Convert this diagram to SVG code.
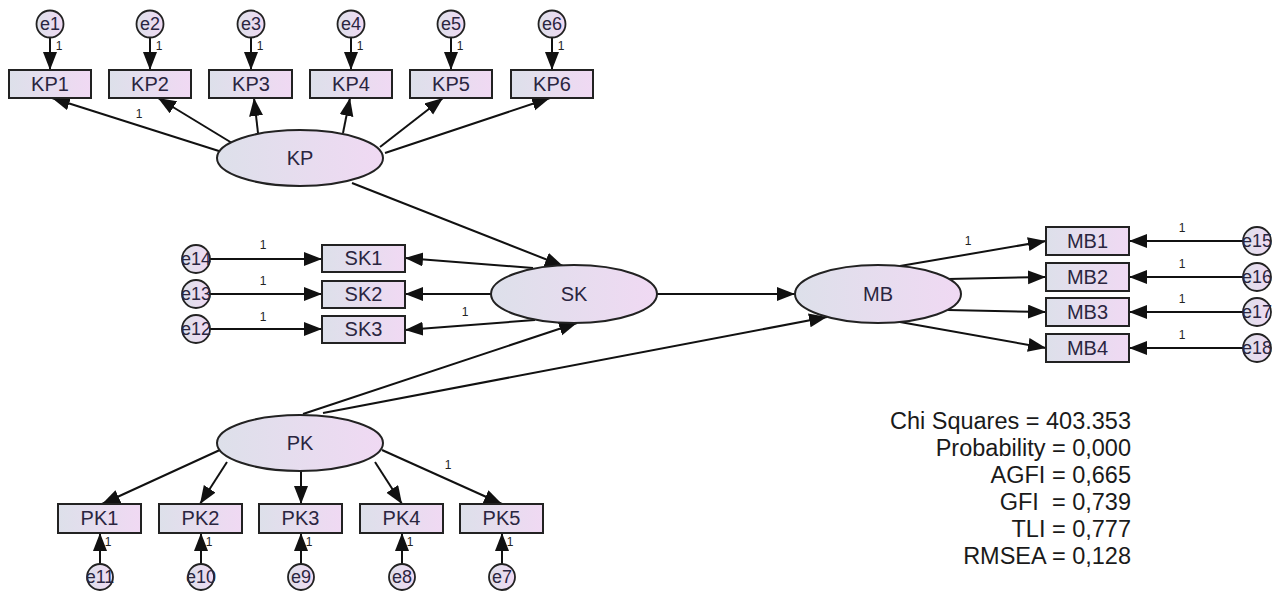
<svg xmlns="http://www.w3.org/2000/svg" width="1279" height="591" viewBox="0 0 1279 591">
<style>
.bx{fill:url(#g);stroke:#222;stroke-width:2}
.el{fill:url(#g);stroke:#222;stroke-width:2}
.ci{fill:url(#g);stroke:#222;stroke-width:1.8}
.t{font-family:"Liberation Sans",Arial,sans-serif;font-size:20px;fill:#2a2540;text-anchor:middle}
.te{font-family:"Liberation Sans",Arial,sans-serif;font-size:18px;fill:#2a2540;text-anchor:middle}
.one{font-family:"Liberation Sans",Arial,sans-serif;font-size:12px;fill:#222;text-anchor:middle}
.st{font-family:"Liberation Sans",Arial,sans-serif;font-size:23.5px;fill:#1a1a1a;text-anchor:end}
.c line{stroke:#111;stroke-width:2;marker-end:url(#ah)}
</style>
<defs>
<linearGradient id="g" x1="0" y1="0" x2="1" y2="0">
<stop offset="0" stop-color="#dde0ea"/>
<stop offset="1" stop-color="#f0d9f3"/>
</linearGradient>
<marker id="ah" markerUnits="userSpaceOnUse" markerWidth="20" markerHeight="15" refX="18" refY="7" orient="auto">
<path d="M0,0 L18,7 L0,14 z" fill="#111"/>
</marker>
</defs>
<rect width="1279" height="591" fill="#fff"/>
<g id="connectors" class="c">
<line x1="50" y1="38" x2="50" y2="70"/>
<line x1="150" y1="38" x2="150" y2="70"/>
<line x1="251" y1="38" x2="251" y2="70"/>
<line x1="351" y1="38" x2="351" y2="70"/>
<line x1="451" y1="38" x2="451" y2="70"/>
<line x1="552" y1="38" x2="552" y2="70"/>
<line x1="222" y1="152" x2="52" y2="98"/>
<line x1="232" y1="143" x2="158" y2="98"/>
<line x1="258" y1="133" x2="254" y2="98"/>
<line x1="343" y1="133" x2="350" y2="98"/>
<line x1="380" y1="147" x2="443" y2="98"/>
<line x1="385" y1="153" x2="550" y2="98"/>
<line x1="352" y1="183" x2="563" y2="266"/>
<line x1="210" y1="259" x2="322" y2="259"/>
<line x1="210" y1="294" x2="322" y2="294"/>
<line x1="210" y1="329" x2="322" y2="329"/>
<line x1="533" y1="268" x2="405" y2="258"/>
<line x1="491" y1="294" x2="405" y2="294"/>
<line x1="535" y1="320" x2="405" y2="330"/>
<line x1="657" y1="294" x2="795" y2="294"/>
<line x1="303" y1="414" x2="577" y2="323"/>
<line x1="323" y1="413" x2="827" y2="317"/>
<line x1="1243" y1="241" x2="1129" y2="241"/>
<line x1="1243" y1="277" x2="1129" y2="277"/>
<line x1="1243" y1="312" x2="1129" y2="312"/>
<line x1="1243" y1="348" x2="1129" y2="348"/>
<line x1="900" y1="266" x2="1046" y2="241"/>
<line x1="948" y1="279" x2="1046" y2="277"/>
<line x1="948" y1="310" x2="1046" y2="312"/>
<line x1="900" y1="322" x2="1046" y2="348"/>
<line x1="222" y1="449" x2="102" y2="504"/>
<line x1="227" y1="462" x2="200" y2="504"/>
<line x1="301" y1="471" x2="301" y2="504"/>
<line x1="375" y1="462" x2="402" y2="504"/>
<line x1="382" y1="450" x2="502" y2="504"/>
<line x1="100" y1="564" x2="100" y2="533"/>
<line x1="201" y1="564" x2="201" y2="533"/>
<line x1="301" y1="564" x2="301" y2="533"/>
<line x1="402" y1="564" x2="402" y2="533"/>
<line x1="502" y1="564" x2="502" y2="533"/>
</g>
<g id="weights">
<text class="one" x="59" y="50">1</text>
<text class="one" x="159" y="50">1</text>
<text class="one" x="260" y="50">1</text>
<text class="one" x="360" y="50">1</text>
<text class="one" x="460" y="50">1</text>
<text class="one" x="561" y="50">1</text>
<text class="one" x="139" y="118">1</text>
<text class="one" x="263" y="249">1</text>
<text class="one" x="263" y="285">1</text>
<text class="one" x="263" y="321">1</text>
<text class="one" x="465" y="316">1</text>
<text class="one" x="968" y="245">1</text>
<text class="one" x="1182" y="232">1</text>
<text class="one" x="1182" y="268">1</text>
<text class="one" x="1182" y="303">1</text>
<text class="one" x="1182" y="339">1</text>
<text class="one" x="448" y="469">1</text>
<text class="one" x="108" y="546">1</text>
<text class="one" x="209" y="546">1</text>
<text class="one" x="309" y="546">1</text>
<text class="one" x="410" y="546">1</text>
<text class="one" x="510" y="546">1</text>
</g>
<g id="e1"><circle class="ci" cx="50" cy="24" r="13.5"/><text class="te" x="50" y="30">e1</text></g>
<g id="e2"><circle class="ci" cx="150" cy="24" r="13.5"/><text class="te" x="150" y="30">e2</text></g>
<g id="e3"><circle class="ci" cx="251" cy="24" r="13.5"/><text class="te" x="251" y="30">e3</text></g>
<g id="e4"><circle class="ci" cx="351" cy="24" r="13.5"/><text class="te" x="351" y="30">e4</text></g>
<g id="e5"><circle class="ci" cx="451" cy="24" r="13.5"/><text class="te" x="451" y="30">e5</text></g>
<g id="e6"><circle class="ci" cx="552" cy="24" r="13.5"/><text class="te" x="552" y="30">e6</text></g>
<g id="KP1"><rect class="bx" x="9" y="70" width="82" height="28"/><text class="t" x="50" y="91">KP1</text></g>
<g id="KP2"><rect class="bx" x="109" y="70" width="82" height="28"/><text class="t" x="150" y="91">KP2</text></g>
<g id="KP3"><rect class="bx" x="209" y="70" width="83" height="28"/><text class="t" x="251" y="91">KP3</text></g>
<g id="KP4"><rect class="bx" x="310" y="70" width="82" height="28"/><text class="t" x="351" y="91">KP4</text></g>
<g id="KP5"><rect class="bx" x="410" y="70" width="82" height="28"/><text class="t" x="451" y="91">KP5</text></g>
<g id="KP6"><rect class="bx" x="511" y="70" width="82" height="28"/><text class="t" x="552" y="91">KP6</text></g>
<g id="KP"><ellipse class="el" cx="300" cy="158" rx="83" ry="28"/><text class="t" x="300" y="165">KP</text></g>
<g id="e14"><circle class="ci" cx="196" cy="259" r="14"/><text class="te" x="196" y="265">e14</text></g>
<g id="e13"><circle class="ci" cx="196" cy="294" r="14"/><text class="te" x="196" y="300">e13</text></g>
<g id="e12"><circle class="ci" cx="196" cy="329" r="14"/><text class="te" x="196" y="335">e12</text></g>
<g id="SK1"><rect class="bx" x="322" y="245" width="83" height="27"/><text class="t" x="363.5" y="265">SK1</text></g>
<g id="SK2"><rect class="bx" x="322" y="281" width="83" height="27"/><text class="t" x="363.5" y="301">SK2</text></g>
<g id="SK3"><rect class="bx" x="322" y="316" width="83" height="27"/><text class="t" x="363.5" y="336">SK3</text></g>
<g id="SK"><ellipse class="el" cx="574" cy="294" rx="83" ry="29"/><text class="t" x="574" y="301">SK</text></g>
<g id="MB"><ellipse class="el" cx="878" cy="294" rx="83" ry="29"/><text class="t" x="878" y="301">MB</text></g>
<g id="MB1"><rect class="bx" x="1046" y="227" width="83" height="28"/><text class="t" x="1087.5" y="248">MB1</text></g>
<g id="MB2"><rect class="bx" x="1046" y="263" width="83" height="28"/><text class="t" x="1087.5" y="284">MB2</text></g>
<g id="MB3"><rect class="bx" x="1046" y="298" width="83" height="28"/><text class="t" x="1087.5" y="319">MB3</text></g>
<g id="MB4"><rect class="bx" x="1046" y="334" width="83" height="28"/><text class="t" x="1087.5" y="355">MB4</text></g>
<g id="e15"><circle class="ci" cx="1257" cy="241" r="14"/><text class="te" x="1257" y="247">e15</text></g>
<g id="e16"><circle class="ci" cx="1257" cy="277" r="14"/><text class="te" x="1257" y="283">e16</text></g>
<g id="e17"><circle class="ci" cx="1257" cy="312" r="14"/><text class="te" x="1257" y="318">e17</text></g>
<g id="e18"><circle class="ci" cx="1257" cy="348" r="14"/><text class="te" x="1257" y="354">e18</text></g>
<g id="PK"><ellipse class="el" cx="300" cy="443" rx="83" ry="28"/><text class="t" x="300" y="450">PK</text></g>
<g id="PK1"><rect class="bx" x="58" y="504" width="83" height="29"/><text class="t" x="99.5" y="525">PK1</text></g>
<g id="PK2"><rect class="bx" x="159" y="504" width="83" height="29"/><text class="t" x="200.5" y="525">PK2</text></g>
<g id="PK3"><rect class="bx" x="259" y="504" width="83" height="29"/><text class="t" x="300.5" y="525">PK3</text></g>
<g id="PK4"><rect class="bx" x="360" y="504" width="83" height="29"/><text class="t" x="401.5" y="525">PK4</text></g>
<g id="PK5"><rect class="bx" x="460" y="504" width="83" height="29"/><text class="t" x="501.5" y="525">PK5</text></g>
<g id="e11"><circle class="ci" cx="100" cy="577" r="13"/><text class="te" x="100" y="583">e11</text></g>
<g id="e10"><circle class="ci" cx="201" cy="577" r="13"/><text class="te" x="201" y="583">e10</text></g>
<g id="e9"><circle class="ci" cx="301" cy="577" r="13"/><text class="te" x="301" y="583">e9</text></g>
<g id="e8"><circle class="ci" cx="402" cy="577" r="13"/><text class="te" x="402" y="583">e8</text></g>
<g id="e7"><circle class="ci" cx="502" cy="577" r="13"/><text class="te" x="502" y="583">e7</text></g>
<g id="stats">
<text class="st" x="1131" y="429">Chi Squares = 403.353</text>
<text class="st" x="1131" y="456">Probability = 0,000</text>
<text class="st" x="1131" y="483">AGFI = 0,665</text>
<text class="st" x="1131" y="510">GFI&#160; = 0,739</text>
<text class="st" x="1131" y="537">TLI = 0,777</text>
<text class="st" x="1131" y="564">RMSEA = 0,128</text>
</g>
</svg>
